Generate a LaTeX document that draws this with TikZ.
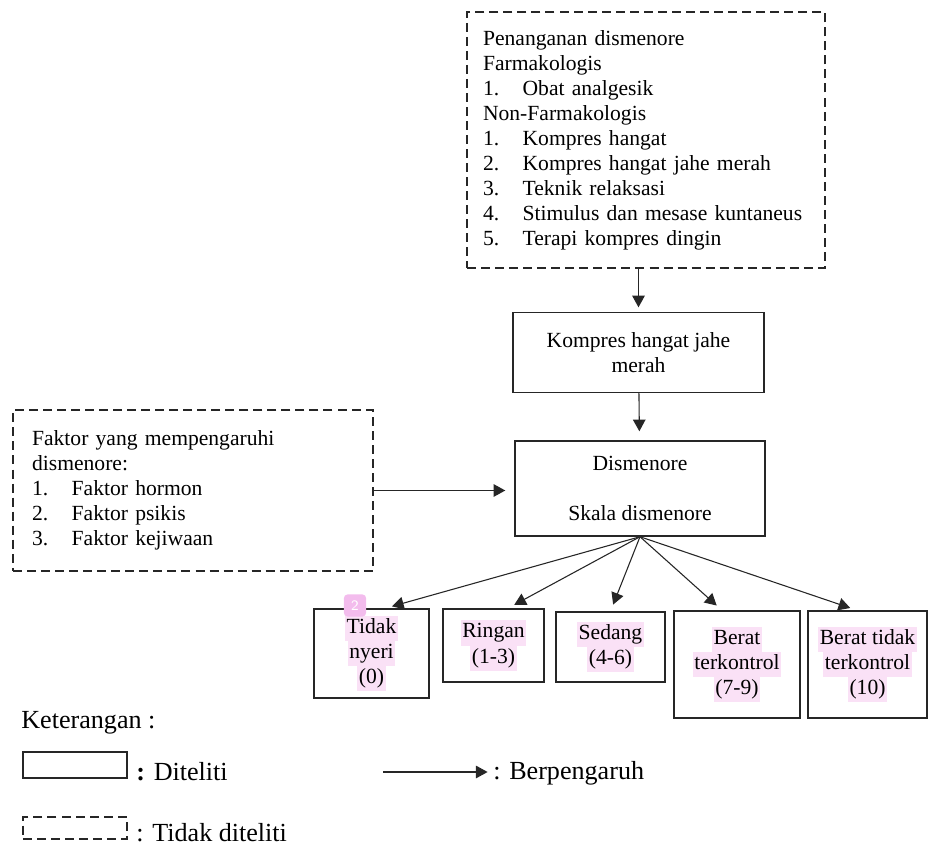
\documentclass[tikz,border=0pt]{standalone}
\usepackage{fontspec}
\setmainfont{Liberation Serif}
\usetikzlibrary{arrows.meta}
\definecolor{hlpink}{RGB}{250,225,246}
\definecolor{markpink}{RGB}{243,188,237}
\newcommand{\hlt}[1]{{\setlength{\fboxsep}{0pt}\colorbox{hlpink}{\strut\kern1pt #1\kern1pt}}}
\newcommand{\itemline}[2]{\makebox[22pt][l]{#1}#2}
\begin{document}
\begin{tikzpicture}
[x=0.5556pt, y=-0.5556pt,
 every node/.style={font=\fontsize{12pt}{13.9pt}\selectfont},
 boxdecorate/.style={shape=rectangle, draw=black!85, line width=0.8pt, align=center, inner sep=0pt},
 dashdecorate/.style={shape=rectangle, draw=black!85, line width=0.8pt, dash pattern=on 5pt off 2.8pt, align=left, inner ysep=0pt},
 legenddecorate/.style={anchor=base west, inner sep=0pt, font=\fontsize{14.5pt}{16pt}\selectfont},
 arrowdecorate/.style={-{Triangle[length=6.5pt,width=7pt]}, draw=black!85, line width=0.6pt, shorten >=3.5pt}]
\useasboundingbox (0,0) rectangle (929,845);
%% nodes or vertices
\node (penanganan) at (646,140) [dashdecorate, minimum width=198.9pt, minimum height=142.2pt,
  inner xsep=8.9pt, text width=181.1pt]
  {Penanganan dismenore\\ Farmakologis\\ \itemline{1.}{Obat analgesik}\\ Non-Farmakologis\\
   \itemline{1.}{Kompres hangat}\\ \itemline{2.}{Kompres hangat jahe merah}\\
   \itemline{3.}{Teknik relaksasi}\\ \itemline{4.}{Stimulus dan mesase kuntaneus}\\
   \itemline{5.}{Terapi kompres dingin}};
\node (kompres) at (638.5,352.5) [boxdecorate, minimum width=139.5pt, minimum height=44.4pt]
  {Kompres hangat jahe\\ merah};
\node (dismenore) at (640,488.5) [boxdecorate, minimum width=138.9pt, minimum height=52.8pt]
  {Dismenore\\[13.9pt] Skala dismenore};
\node (faktor) at (193,490.5) [dashdecorate, minimum width=200pt, minimum height=89.5pt,
  inner xsep=10.6pt, text width=178.8pt]
  {Faktor yang mempengaruhi\\ dismenore:\\ \itemline{1.}{Faktor hormon}\\
   \itemline{2.}{Faktor psikis}\\ \itemline{3.}{Faktor kejiwaan}};
\foreach \nodename/\x/\y/\w/\h/\content in {
  tidak/371.5/653.5/63.9pt/49.4pt/{\hlt{Tidak}\\ \hlt{nyeri}\\ \hlt{(0)}},
  ringan/493.5/645.5/56.1pt/40.6pt/{\hlt{Ringan}\\ \hlt{(1-3)}},
  sedang/610.5/647/60.6pt/38.9pt/{\hlt{Sedang}\\ \hlt{(4-6)}},
  berat/737/664.5/70pt/59.4pt/{\hlt{Berat}\\ \hlt{terkontrol}\\ \hlt{(7-9)}},
  beratlepas/867.5/664.5/66.1pt/59.4pt/{\hlt{Berat tidak}\\ \hlt{terkontrol}\\ \hlt{(10)}}}
{
  \node (\nodename) at (\x,\y) [boxdecorate, minimum width=\w, minimum height=\h] {\content};
}
\node (mark) at (355,605.5) [fill=markpink, rounded corners=2pt, minimum size=12.3pt,
  inner sep=0pt, text=white, font=\sffamily\fontsize{8pt}{9pt}\selectfont] {2};
%% legend
\node (keterangan) at (21,728) [legenddecorate] {Keterangan :};
\node (legditeliti) at (75,765) [boxdecorate, minimum width=57.8pt, minimum height=14.4pt] {};
\node (txtditeliti) at (136,780) [legenddecorate] {\textbf{:} Diteliti};
\node (legtidak) at (75,828) [dashdecorate, minimum width=57.8pt, minimum height=12.2pt, inner sep=0pt] {};
\node (txttidak) at (136,841) [legenddecorate] {: Tidak diteliti};
\coordinate (legstart) at (383,772);
\node (txtpengaruh) at (493,779) [legenddecorate] {: Berpengaruh};
%% edges or lines
\path
  (kompres.north |- penanganan.south) edge[arrowdecorate, shorten >=2.5pt] (kompres.north)
  (kompres) edge[arrowdecorate, shorten >=5pt] (dismenore)
  (faktor.east) edge[arrowdecorate, shorten >=5pt] (faktor.east -| dismenore.west)
  (legstart) edge[arrowdecorate, shorten >=3pt] (legstart -| txtpengaruh.west);
\path
\foreach \endnode/\shift in {tidak/7.5pt, ringan/8pt, sedang/0pt, berat/-8.3pt, beratlepas/-5.8pt} {
  (dismenore.south) edge[arrowdecorate, shorten >=4pt] ([xshift=\shift]\endnode.north)
};
\end{tikzpicture}
\end{document}
